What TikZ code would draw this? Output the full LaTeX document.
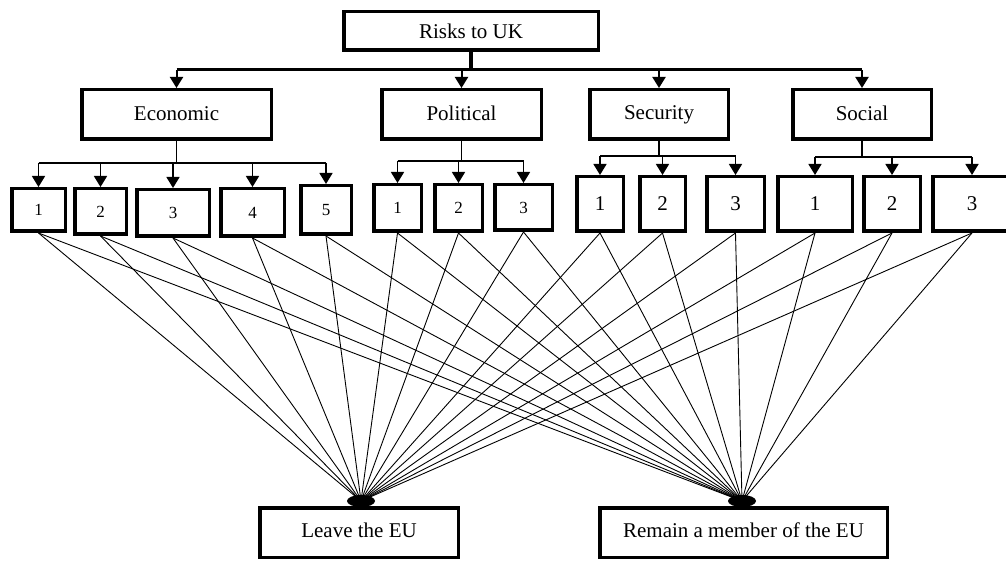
\documentclass[tikz,border=0pt]{standalone}
\usepackage{fontspec}
\setmainfont{Liberation Serif}
\usetikzlibrary{arrows.meta}
\begin{document}
\begin{tikzpicture}[x=1pt,y=-1pt,
  box/.style={draw, fill=white, line width=3.5pt, inner sep=0pt, font=\fontsize{21}{24}\selectfont},
  smallbox/.style={box, font=\fontsize{17}{20}\selectfont},
  arr/.style={-{Triangle[length=11pt,width=13pt]}, line width=1.5pt},
  toparr/.style={-{Triangle[length=11pt,width=13pt]}, line width=2pt},
  trunk/.style={line width=4.5pt},
  topbar/.style={line width=3pt},
  subbar/.style={line width=1.5pt},
  fan/.style={line width=0.9pt}]
\useasboundingbox (0,0) rectangle (1006,561);

% top
\node[box, minimum width=254.5pt, minimum height=38.5pt] (top) at (471,31) {\raisebox{-2pt}{Risks to UK}};
% categories
\node[box, minimum width=189.5pt, minimum height=49.5pt] (econ) at (176.5,114.5) {\raisebox{2pt}{Economic}};
\node[box, minimum width=159.5pt, minimum height=49.5pt] (pol) at (461.5,114.5) {\raisebox{2pt}{Political}};
\node[box, minimum width=138.5pt, minimum height=49.5pt] (sec) at (659,114.5) {\raisebox{2pt}{Security}};
\node[box, minimum width=138.5pt, minimum height=49.5pt] (soc) at (862,114.5) {\raisebox{2pt}{Social}};

% economic children
\node[smallbox, minimum width=53.5pt, minimum height=42.5pt] (e1) at (38.5,210) {\raisebox{-3pt}{1}};
\node[smallbox, minimum width=51.5pt, minimum height=45.5pt] (e2) at (100.5,211.5) {\raisebox{-3pt}{2}};
\node[smallbox, minimum width=72.5pt, minimum height=46.5pt] (e3) at (173,213) {\raisebox{-3pt}{3}};
\node[smallbox, minimum width=63.5pt, minimum height=47.5pt] (e4) at (252.5,212.5) {\raisebox{-3pt}{4}};
\node[smallbox, minimum width=50.5pt, minimum height=48.5pt] (e5) at (326,210) {\raisebox{-3pt}{5}};
% political children
\node[smallbox, minimum width=47.5pt, minimum height=46.5pt] (p1) at (397.5,208) {1};
\node[smallbox, minimum width=47.5pt, minimum height=46.5pt] (p2) at (458.5,208) {2};
\node[smallbox, minimum width=57.5pt, minimum height=45.5pt] (p3) at (523.5,207.5) {3};
% security children
\node[box, minimum width=46.5pt, minimum height=54.5pt] (s1) at (600,204) {1};
\node[box, minimum width=45.5pt, minimum height=54.5pt] (s2) at (662.5,204) {2};
\node[box, minimum width=57.5pt, minimum height=54.5pt] (s3) at (735.5,204) {3};
% social children
\node[box, minimum width=74.5pt, minimum height=54.5pt] (o1) at (815,204) {1};
\node[box, minimum width=56.5pt, minimum height=54.5pt] (o2) at (892,204) {2};
\node[box, minimum width=78.5pt, minimum height=54.5pt] (o3) at (972,204) {3};

% top level connectors
\draw[trunk] (top.south) -- ++(0,18) coordinate (tj);
\draw[topbar] (econ.north |- tj) -- (soc.north |- tj);
\foreach \n in {econ,pol,sec,soc} \draw[toparr] (\n.north |- tj) -- (\n.north);

% economic connectors
\draw[subbar] (econ.south) -- (econ.south |- 0,163) coordinate (ej);
\draw[subbar] (e1.north |- ej) -- (e5.north |- ej);
\foreach \n in {e1,e2,e3,e4,e5} \draw[arr] (\n.north |- ej) -- (\n.north);
% political connectors
\draw[subbar] (pol.south) -- (pol.south |- 0,161) coordinate (pj);
\draw[subbar] (p1.north |- pj) -- (p3.north |- pj);
\foreach \n in {p1,p2,p3} \draw[arr] (\n.north |- pj) -- (\n.north);
% security connectors
\draw[subbar] (sec.south) -- (sec.south |- 0,156) coordinate (sj);
\draw[subbar] (s1.north |- sj) -- (s3.north |- sj);
\foreach \n in {s1,s2,s3} \draw[arr] (\n.north |- sj) -- (\n.north);
% social connectors
\draw[subbar] (soc.south) -- (soc.south |- 0,157) coordinate (oj);
\draw[subbar] (o1.north |- oj) -- (o3.north |- oj);
\foreach \n in {o1,o2,o3} \draw[arr] (\n.north |- oj) -- (\n.north);

% fan lines
\coordinate (lt) at (361,501);
\coordinate (rt) at (742,501);
\foreach \n in {e1,e2,e3,e4,e5,p1,p2,p3,s1,s2,s3,o1,o2,o3} {
  \draw[fan] (\n.south) -- (lt);
  \draw[fan] (\n.south) -- (rt);
}
\fill (lt) ellipse [x radius=14pt, y radius=6pt];
\fill (rt) ellipse [x radius=14pt, y radius=6pt];

% outcomes
\node[box, minimum width=198.5pt, minimum height=49.5pt] (leave) at (359,532.5) {\raisebox{5pt}{Leave the EU}};
\node[box, minimum width=287.5pt, minimum height=49.5pt] (remain) at (743.5,532.5) {\raisebox{5pt}{Remain a member of the EU}};
\end{tikzpicture}
\end{document}
